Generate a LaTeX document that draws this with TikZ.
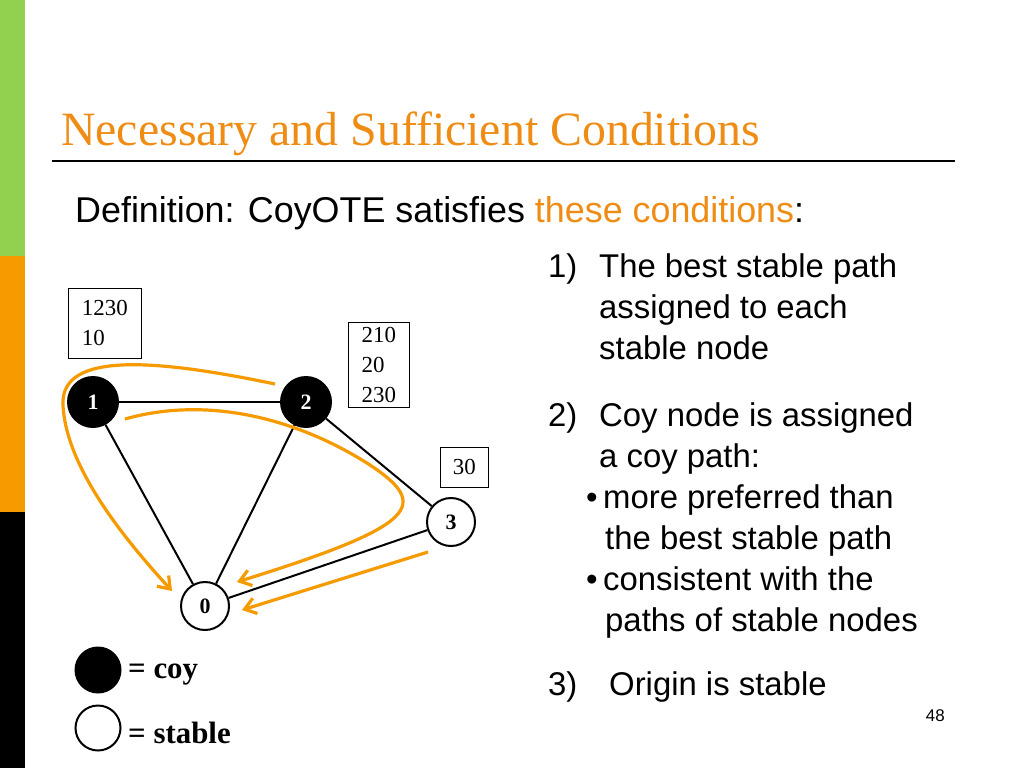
\documentclass[tikz,border=0pt]{standalone}
\usepackage{fontspec}
\setmainfont{Liberation Serif}
\setsansfont{Liberation Sans}
\usetikzlibrary{arrows.meta}
\definecolor{og}{RGB}{245,155,0}
\definecolor{tor}{RGB}{238,140,20}
\definecolor{gr}{RGB}{146,208,80}
\begin{document}
\begin{tikzpicture}[x=1bp,y=-1bp,
  gn/.style={circle,draw,line width=2pt,minimum size=50bp,inner sep=0pt,font=\fontsize{22}{22}\selectfont\bfseries},
  coyn/.style={gn,fill=black,text=white},
  lbl/.style={draw,line width=0.8pt,align=left,anchor=north west,inner sep=6bp,font=\fontsize{23}{30}\selectfont},
  edge/.style={line width=2pt},
  op/.style={draw=og,line width=3.2pt,-{Straight Barb[length=11bp,width=16bp]}},
  txt/.style={anchor=base west,inner sep=0pt,font=\sffamily\fontsize{33}{33}\selectfont}]
\useasboundingbox (0,0) rectangle (1024,768);
\fill[white] (0,0) rectangle (1024,768);
\fill[gr] (0,0) rectangle (25,256);
\fill[og] (0,256) rectangle (25,512);
\fill[black] (0,512) rectangle (25,768);
\node[anchor=base west,inner sep=0pt,text=tor,font=\fontsize{48}{48}\selectfont] (title) at (61,145) {Necessary and Sufficient Conditions};
\draw[line width=2pt] (52,161) -- (955,161);
\node[anchor=base west,inner sep=0pt,font=\sffamily\fontsize{36}{36}\selectfont] (def) at (75,222) {Definition: CoyOTE satisfies \textcolor{tor}{these conditions}:};
\node[txt] (c1a) at (548,277) {1)};
\node[txt] (c1a2) at (599,277) {The best stable path};
\node[txt] (c1b) at (599,318) {assigned to each};
\node[txt] (c1c) at (599,359) {stable node};
\node[txt] (c2a) at (548,426) {2)};
\node[txt] (c2a2) at (599,426) {Coy node is assigned};
\node[txt] (c2b) at (599,467) {a coy path:};
\node[txt] (c2c) at (586,508) {\textbullet\,more preferred than};
\node[txt] (c2d) at (605,549) {the best stable path};
\node[txt] (c2e) at (586,590) {\textbullet\,consistent with the};
\node[txt] (c2f) at (605,631) {paths of stable nodes};
\node[txt] (c3) at (548,695) {3)};
\node[txt] (c3b) at (609,695) {Origin is stable};
\node[anchor=base east,inner sep=0pt,font=\sffamily\fontsize{17}{17}\selectfont] (pg) at (945,721) {48};
\node[coyn] (n1) at (93,402) {1};
\node[coyn] (n2) at (306,402) {2};
\node[gn,minimum size=48bp] (n3) at (451,522) {3};
\node[gn,minimum size=48bp] (n0) at (205,606) {0};
\draw[edge] (n1) -- (n2);
\draw[edge] (n1) -- (n0);
\draw[edge] (n2) -- (n0);
\draw[edge] (n2) -- (n3);
\draw[edge] (n3) -- (n0);
\node[lbl,minimum width=73bp,minimum height=70bp,anchor=north west,inner sep=5bp] (b1) at (68,288) {1230\\10};
\node[lbl,minimum width=61bp,anchor=north west,inner sep=5bp] (b2) at (348,322) {210\\20\\230};
\node[lbl,minimum width=48bp,minimum height=40bp,anchor=north west,inner sep=4bp] (b3) at (440,447) {30};
\coordinate (a1s) at (275,384);
\coordinate (a1e) at (172,591);
\draw[op] (a1s) .. controls (160,360) and (60,350) .. (63,405) .. controls (66,470) and (130,545) .. (a1e);
\coordinate (b1s) at (125,419);
\coordinate (b1e) at (237,582);
\draw[op] (b1s) .. controls (210,395) and (300,420) .. (370,465) .. controls (430,505) and (420,525) .. (b1e);
\coordinate (c1s) at (428,552);
\coordinate (c1e) at (242,610);
\draw[op] (c1s) -- (c1e);
\node[gn,fill=black,minimum size=45bp] (lg1) at (98,670) {};
\node[gn,minimum size=45bp] (lg2) at (98,728) {};
\node[anchor=west,inner sep=0pt,font=\fontsize{31}{31}\selectfont\bfseries] (t1) at (128,675) {= coy};
\node[anchor=west,inner sep=0pt,font=\fontsize{31}{31}\selectfont\bfseries] (t2) at (128,733) {= stable};
\end{tikzpicture}
\end{document}
